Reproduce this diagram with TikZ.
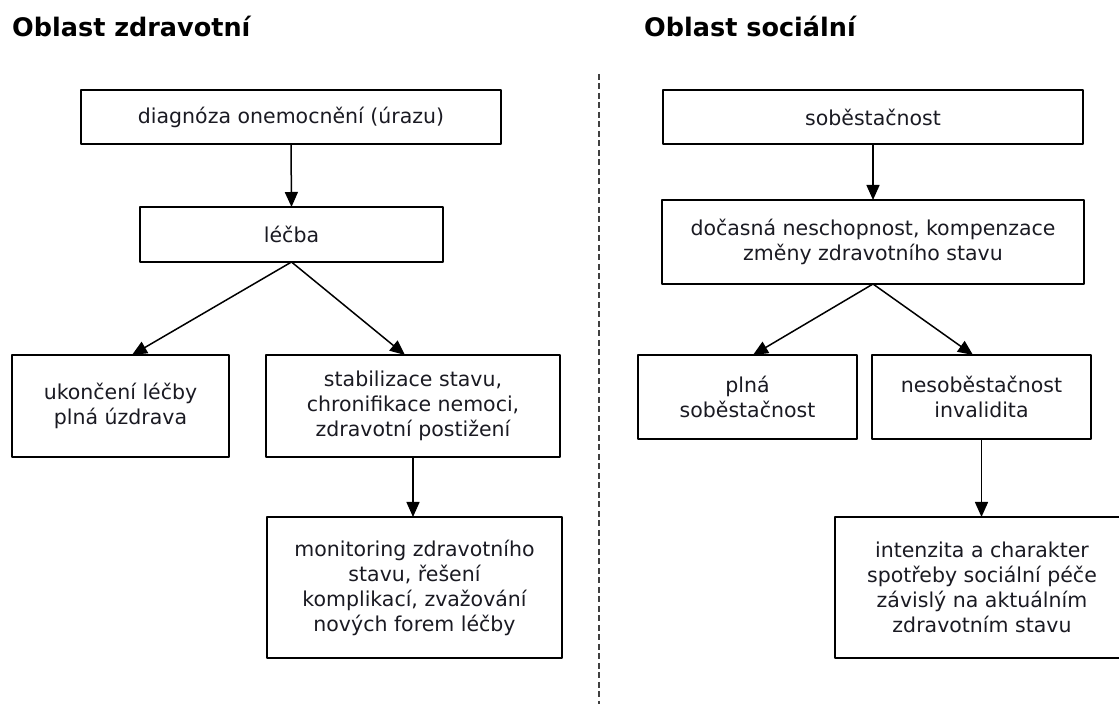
\documentclass[tikz,border=0pt]{standalone}
\usepackage{fontspec}
\setmainfont{DejaVu Sans}
\usepackage{tikz}
\usetikzlibrary{arrows.meta}
\definecolor{ink}{HTML}{1A1A22}
\definecolor{rule}{HTML}{404040}
\tikzset{fig/.style={line join=round,>={Triangle[length=15pt,width=13pt]}},
  box/.style={draw,line width=2.1pt,inner sep=0pt,outer sep=0pt,align=center,text=ink,font=\fontsize{20.5}{25}\selectfont},
  head/.style={anchor=base west,inner sep=0pt,font=\fontsize{25.5}{30}\selectfont\bfseries},
  link/.style={->,line width=1.5pt}}

\begin{document}
\begin{tikzpicture}[fig,x=1pt,y=1pt]
  \useasboundingbox(0,0)rectangle(1119,704);
  \node[head](zdrav)at(12,667){Oblast zdravotní};
  \node[head](soc)at(644,667){Oblast sociální};
  \draw[rule,line width=1.3pt,dash pattern=on 6pt off 3.5pt](599,630)--(599,0);
  % oblast zdravotni
  \node[box,minimum width=420pt,minimum height=54pt](diag)at(291,587){diagnóza onemocnění (úrazu)};
  \node[box,minimum width=303pt,minimum height=55pt](lecba)at(291.5,469.5){léčba};
  \node[box,minimum width=217pt,minimum height=102pt](ukonc)at(120.5,298){ukončení léčby\\plná úzdrava};
  \node[box,minimum width=294pt,minimum height=102pt](stab)at(413,298){stabilizace stavu,\\chronifikace nemoci,\\zdravotní postižení};
  \node[box,minimum width=295pt,minimum height=141pt](monit)at(414.5,116.5){monitoring zdravotního\\stavu, řešení\\komplikací, zvažování\\nových forem léčby};
  \draw[link](diag.south)--(lecba.north);
  \draw[link](lecba.south)--([xshift=11.5pt]ukonc.north);
  \draw[link](lecba.south)--([xshift=-8pt]stab.north);
  \draw[link](stab.south)--(stab.south|-monit.north);
  % oblast socialni
  \node[box,minimum width=420pt,minimum height=54pt](sob)at(873,587){soběstačnost};
  \node[box,minimum width=422pt,minimum height=84pt](docas)at(873,462){dočasná neschopnost, kompenzace\\změny zdravotního stavu};
  \node[box,minimum width=219pt,minimum height=84pt](plna)at(747.5,307){plná\\soběstačnost};
  \node[box,minimum width=219pt,minimum height=84pt](nesob)at(981.5,307){nesoběstačnost\\invalidita};
  \node[box,minimum width=294pt,minimum height=141pt](inten)at(982,116.5){intenzita a charakter\\spotřeby sociální péče\\závislý na aktuálním\\zdravotním stavu};
  \draw[link](sob.south)--(docas.north);
  \draw[link](docas.south)--([xshift=5.5pt]plna.north);
  \draw[link](docas.south)--([xshift=-8.5pt]nesob.north);
  \draw[link](nesob.south)--(nesob.south|-inten.north);
\end{tikzpicture}
\end{document}
